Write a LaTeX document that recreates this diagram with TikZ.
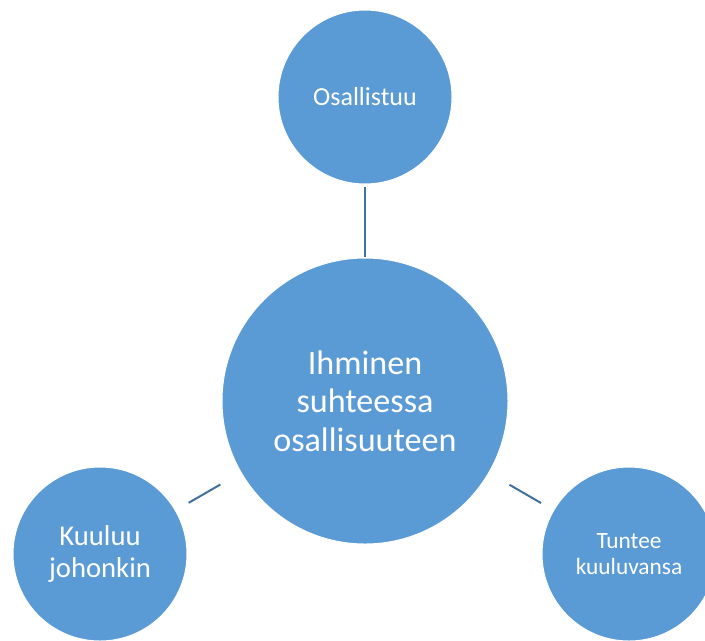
\documentclass[tikz,border=0pt]{standalone}
\usepackage{fontspec}
\setmainfont{Carlito}
\definecolor{bubblefill}{HTML}{5B9BD5}
\definecolor{linkline}{HTML}{41719C}
\begin{document}
\begin{tikzpicture}[x=0.75pt,y=-0.75pt,
	bubble/.style={circle, fill=bubblefill, draw=white, line width=0.75pt, text=white, align=center, inner sep=0pt, outer sep=0pt},
	hub/.style={bubble, minimum size=214.5pt, font=\fontsize{25.6}{28.7}\selectfont},
	leaf/.style={bubble, minimum size=130.5pt},
	link/.style={draw=linkline, line width=1.5pt}]
		%Page frame
		\useasboundingbox (0,0) rectangle (705,640);
		\clip (0,0) rectangle (705,640);
		%Centre of the radial diagram
		\node [hub] (ihminen) at (365,401) {Ihminen\\suhteessa\\osallisuuteen};
		%Outer circles
		\node [leaf, font=\fontsize{19.5}{23}\selectfont] (osallistuu) at (365,97) {Osallistuu};
		\node [leaf, font=\fontsize{21.5}{23.5}\selectfont] (kuuluu) at (100,554) {Kuuluu\\johonkin};
		\node [leaf, font=\fontsize{17.5}{19.5}\selectfont] (tuntee) at (629,554) {Tuntee\\kuuluvansa};
		%Connectors
		\draw [link, shorten <=0.75pt, shorten >=2pt] (ihminen) -- (osallistuu);
		\draw [link, shorten <=18pt, shorten >=11.5pt] (ihminen) -- (kuuluu);
		\draw [link, shorten <=18pt, shorten >=11pt] (ihminen) -- (tuntee);
\end{tikzpicture}
\end{document}
